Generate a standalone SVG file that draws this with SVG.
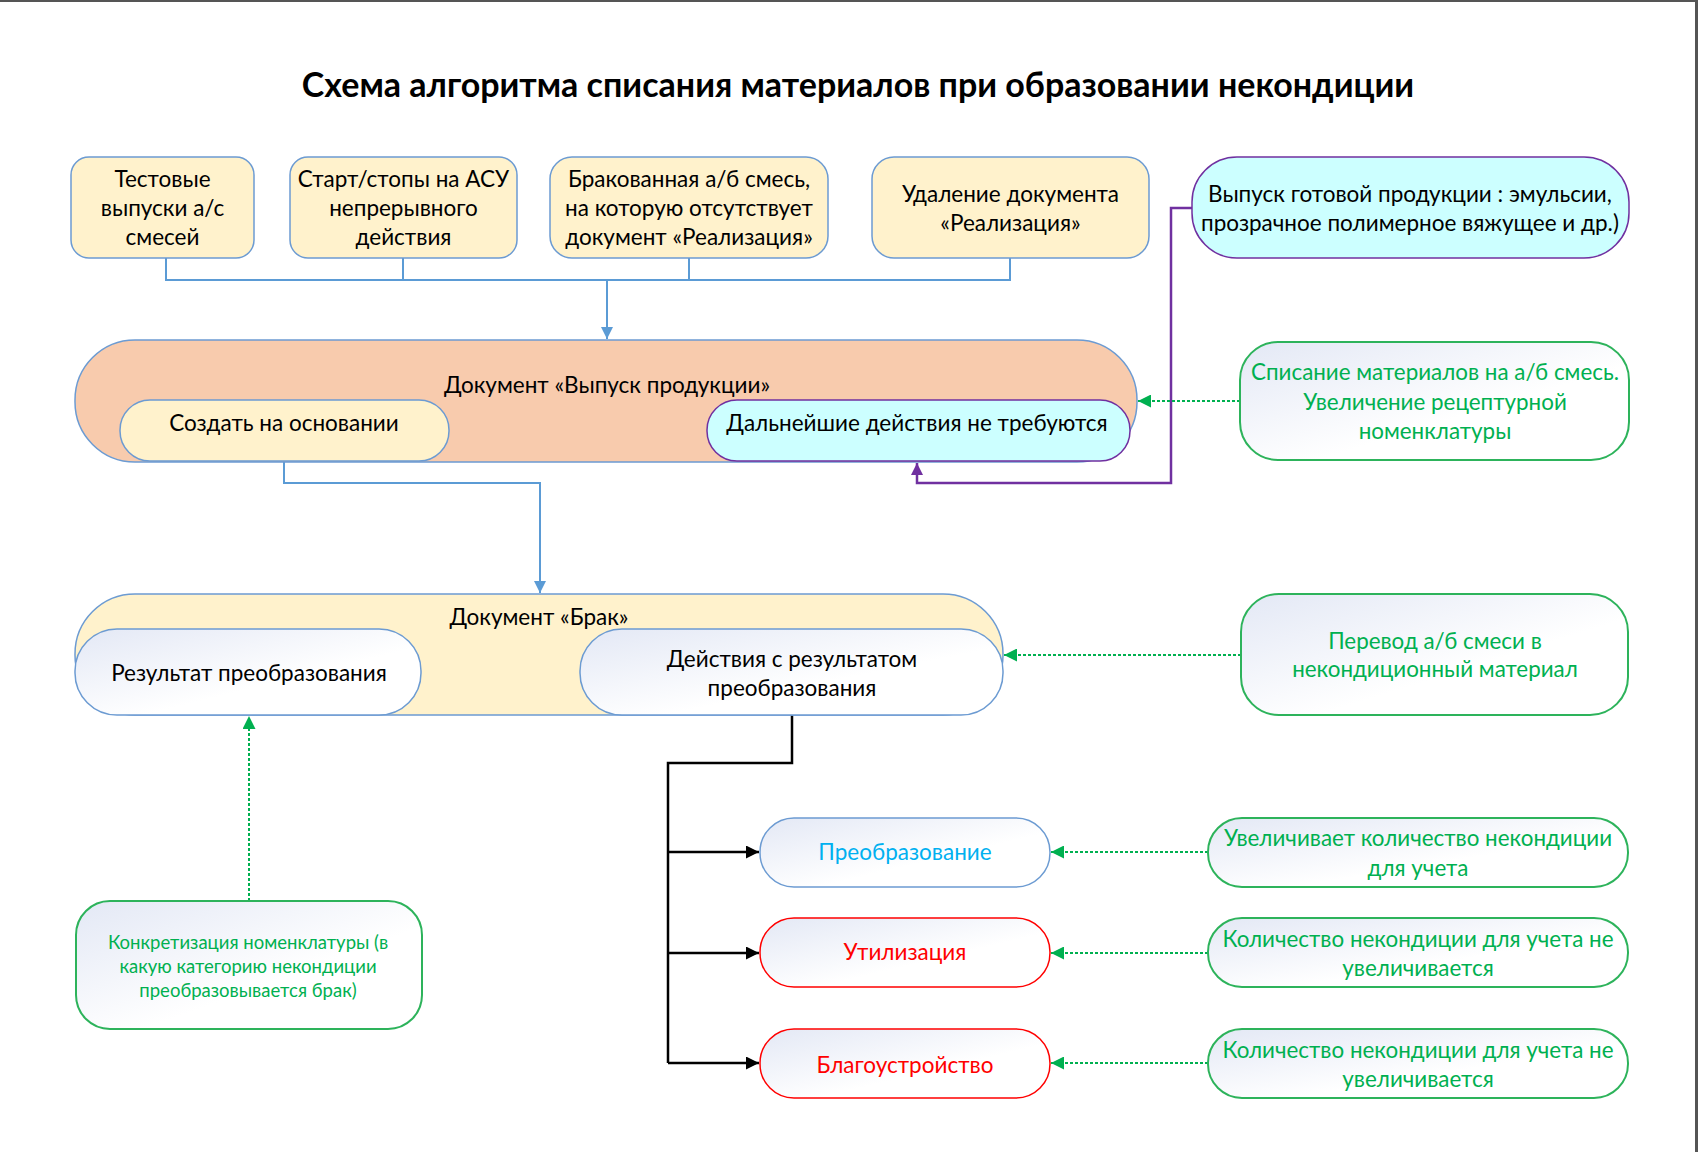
<svg xmlns="http://www.w3.org/2000/svg" width="1698" height="1152" viewBox="0 0 1698 1152">
<style>
text{font-family:Lato,"Noto Sans",sans-serif;font-size:22.5px;fill:#000;text-anchor:middle}
.title{font-size:34px;font-weight:bold}
.g{fill:#00B050;font-size:22.4px}
.gs{fill:#00B050;font-size:18.5px}
.yb{fill:#FFF2CC;stroke:#6C9BD2;stroke-width:1.5}
.pe{fill:#F8CBAD;stroke:#6C9BD2;stroke-width:1.5}
.cy{fill:#CCFFFF;stroke:#7030A0;stroke-width:1.5}
.wb{fill:url(#grad);stroke:#6C9BD2;stroke-width:1.5}
.gb{fill:url(#grad);stroke:#2DB35B;stroke-width:2}
.rb{fill:url(#grad);stroke:#FF0000;stroke-width:1.5}
.blue{fill:none;stroke:#5B9BD5;stroke-width:2}
.purp{fill:none;stroke:#7030A0;stroke-width:2.5}
.blk{fill:none;stroke:#000;stroke-width:2.5}
.dot{fill:none;stroke:#00B050;stroke-width:2;stroke-dasharray:3 2}
</style>
<defs>
<linearGradient id="grad" x1="0" y1="0" x2="1" y2="1">
<stop offset="0" stop-color="#E3E8F5"/>
<stop offset="0.6" stop-color="#FFFFFF"/>
</linearGradient>
<marker id="ablue" viewBox="0 0 10 10" refX="10" refY="5" markerWidth="12" markerHeight="12" orient="auto" markerUnits="userSpaceOnUse"><path d="M0,0L10,5L0,10z" fill="#5B9BD5"/></marker>
<marker id="apurp" viewBox="0 0 10 10" refX="10" refY="5" markerWidth="12" markerHeight="12" orient="auto" markerUnits="userSpaceOnUse"><path d="M0,0L10,5L0,10z" fill="#7030A0"/></marker>
<marker id="ablk" viewBox="0 0 10 10" refX="10" refY="5" markerWidth="13" markerHeight="13" orient="auto" markerUnits="userSpaceOnUse"><path d="M0,0L10,5L0,10z" fill="#000"/></marker>
<marker id="agr" viewBox="0 0 10 10" refX="10" refY="5" markerWidth="13" markerHeight="13" orient="auto" markerUnits="userSpaceOnUse"><path d="M0,0L10,5L0,10z" fill="#00B050"/></marker>
</defs>
<rect x="0" y="0" width="1698" height="1152" fill="#FFFFFF"/>
<rect x="0" y="0" width="1698" height="2" fill="#555555"/>
<rect x="1695" y="0" width="3" height="1152" fill="#555555"/>

<text class="title" x="858" y="97">Схема алгоритма списания материалов при образовании некондиции</text>

<g id="connectors">
<path class="blue" d="M166,258V280H1010V258M403,258V280M689,258V280"/>
<path class="blue" d="M607,280V339" marker-end="url(#ablue)"/>
<path class="purp" d="M1192,208H1171V483H917V463" marker-end="url(#apurp)"/>
<path class="dot" d="M1240,401H1138" marker-end="url(#agr)"/>
<path class="blue" d="M284,461V483H540V593" marker-end="url(#ablue)"/>
<path class="dot" d="M1241,655H1004" marker-end="url(#agr)"/>
<path class="dot" d="M249,901V716" marker-end="url(#agr)"/>
<path class="blk" d="M792,715V763H668V1063"/>
<path class="blk" d="M668,852H759" marker-end="url(#ablk)"/>
<path class="blk" d="M668,953H759" marker-end="url(#ablk)"/>
<path class="blk" d="M668,1063H759" marker-end="url(#ablk)"/>
<path class="dot" d="M1208,852H1051" marker-end="url(#agr)"/>
<path class="dot" d="M1208,953H1051" marker-end="url(#agr)"/>
<path class="dot" d="M1208,1063H1051" marker-end="url(#agr)"/>
</g>

<g id="n1"><rect class="yb" x="71" y="157" width="183" height="101" rx="18"/>
<text x="162.5" y="187">Тестовые</text><text x="162.5" y="216">выпуски а/с</text><text x="162.5" y="245">смесей</text></g>
<g id="n2"><rect class="yb" x="290" y="157" width="227" height="101" rx="18"/>
<text x="403.5" y="187">Старт/стопы на АСУ</text><text x="403.5" y="216">непрерывного</text><text x="403.5" y="245">действия</text></g>
<g id="n3"><rect class="yb" x="550" y="157" width="278" height="101" rx="22"/>
<text x="689" y="187">Бракованная а/б смесь,</text><text x="689" y="216">на которую отсутствует</text><text x="689" y="245">документ «Реализация»</text></g>
<g id="n4"><rect class="yb" x="872" y="157" width="277" height="101" rx="22"/>
<text x="1010.5" y="202">Удаление документа</text><text x="1010.5" y="231">«Реализация»</text></g>
<g id="n5"><rect class="cy" x="1192" y="157" width="437" height="101" rx="45"/>
<text x="1410" y="202">Выпуск готовой продукции : эмульсии,</text><text x="1410" y="231">прозрачное полимерное вяжущее и др.)</text></g>

<g id="n6"><rect class="pe" x="75" y="340" width="1062" height="122" rx="60"/>
<text x="607" y="393">Документ «Выпуск продукции»</text></g>
<g id="n7"><rect class="yb" x="120" y="400" width="329" height="61" rx="30"/>
<text x="284" y="431">Создать на основании</text></g>
<g id="n8"><rect class="cy" x="707" y="400" width="423" height="61" rx="30"/>
<text x="917" y="431">Дальнейшие действия не требуются</text></g>
<g id="n9"><rect class="gb" x="1240" y="342" width="389" height="118" rx="38"/>
<text class="g" x="1435" y="380">Списание материалов на а/б смесь.</text><text class="g" x="1435" y="410">Увеличение рецептурной</text><text class="g" x="1435" y="439">номенклатуры</text></g>

<g id="n10"><rect class="yb" x="75" y="594" width="928" height="121" rx="60"/>
<text x="539" y="625">Документ «Брак»</text></g>
<g id="n11"><rect class="wb" x="75" y="629" width="346" height="86" rx="42"/>
<text x="249" y="681">Результат преобразования</text></g>
<g id="n12"><rect class="wb" x="580" y="629" width="423" height="86" rx="42"/>
<text x="792" y="667">Действия с результатом</text><text x="792" y="696">преобразования</text></g>
<g id="n13"><rect class="gb" x="1241" y="594" width="387" height="121" rx="38"/>
<text class="g" x="1435" y="649">Перевод а/б смеси в</text><text class="g" x="1435" y="677">некондиционный материал</text></g>

<g id="n14"><rect class="gb" x="76" y="901" width="346" height="128" rx="34"/>
<text class="gs" x="248" y="949">Конкретизация номенклатуры (в</text><text class="gs" x="248" y="973">какую категорию некондиции</text><text class="gs" x="248" y="997">преобразовывается брак)</text></g>

<g id="n15"><rect class="wb" x="760" y="818" width="290" height="69" rx="34"/>
<text x="905" y="860" style="fill:#00B0F0">Преобразование</text></g>
<g id="n16"><rect class="rb" x="760" y="918" width="290" height="69" rx="34"/>
<text x="905" y="960" style="fill:#FF0000">Утилизация</text></g>
<g id="n17"><rect class="rb" x="760" y="1029" width="290" height="69" rx="34"/>
<text x="905" y="1073" style="fill:#FF0000">Благоустройство</text></g>

<g id="n18"><rect class="gb" x="1208" y="818" width="420" height="69" rx="34"/>
<text class="g" x="1418" y="846">Увеличивает количество некондиции</text><text class="g" x="1418" y="876">для учета</text></g>
<g id="n19"><rect class="gb" x="1208" y="918" width="420" height="69" rx="34"/>
<text class="g" x="1418" y="947">Количество некондиции для учета не</text><text class="g" x="1418" y="976">увеличивается</text></g>
<g id="n20"><rect class="gb" x="1208" y="1029" width="420" height="69" rx="34"/>
<text class="g" x="1418" y="1058">Количество некондиции для учета не</text><text class="g" x="1418" y="1087">увеличивается</text></g>
</svg>
